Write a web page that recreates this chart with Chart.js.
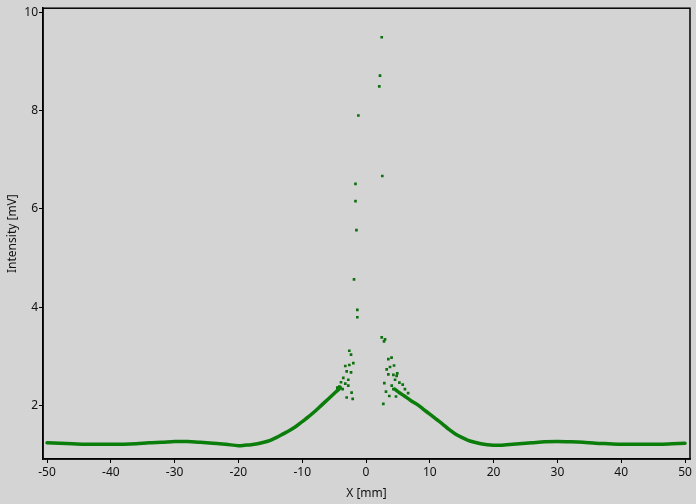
<!DOCTYPE html>
<html>
<head>
<meta charset="utf-8">
<script src="https://cdn.jsdelivr.net/npm/chart.js@4.4.1/dist/chart.umd.min.js"></script>
<style>
  html, body { margin: 0; padding: 0; background: #d4d4d4; }
  #wrap { width: 696px; height: 504px; position: relative; }
</style>
</head>
<body>
<div id="wrap"><canvas id="myChart"></canvas></div>
<script>
// tick labels
const xTicks = [-50, -40, -30, -20, -10, 0, 10, 20, 30, 40, 50];
const yTicks = [2, 4, 6, 8, 10];

const leftX = [-50, -48, -46, -44, -42, -40, -38, -36, -34, -32, -30, -28, -26, -24, -22, -20, -19, -18, -17, -16, -15, -14, -13, -12, -11, -10, -9, -8, -7, -6, -5, -4.5, -4];
const leftY = [1.25, 1.24, 1.23, 1.22, 1.22, 1.22, 1.22, 1.23, 1.25, 1.26, 1.275, 1.275, 1.26, 1.24, 1.22, 1.19, 1.20, 1.21, 1.23, 1.26, 1.30, 1.36, 1.43, 1.50, 1.58, 1.68, 1.78, 1.89, 2.01, 2.13, 2.25, 2.31, 2.37];

// right arm
const rightX = [4.5, 5, 6, 7, 8, 9, 10, 11, 12, 13, 14, 15, 16, 17, 18, 19, 20, 21, 22, 24, 26, 28, 30, 32, 34, 36, 38, 40, 42, 44, 46, 48, 50];
const rightY = [2.34, 2.29, 2.20, 2.11, 2.03, 1.93, 1.83, 1.73, 1.63, 1.52, 1.43, 1.36, 1.30, 1.26, 1.23, 1.21, 1.20, 1.20, 1.21, 1.23, 1.25, 1.27, 1.275, 1.27, 1.26, 1.24, 1.23, 1.22, 1.22, 1.22, 1.22, 1.23, 1.24];

// scattered points near the centre
const scatX = [2.46, 2.19, 2.08, -1.2, 2.55, -1.65, -1.65, -1.5, -1.88, -1.36, -1.36, 2.46, 2.98, 2.82,
  -2.62, -2.35, -1.99, -2.62, -3.25, -3.03, -2.35, -3.56, -2.78, -3.92, -3.25, -4.19, -2.78, -3.67, -2.26, -3.03, -2.09, -4.5,
  3.5, 4.0, 4.39, 3.24, 3.76, 3.5, 4.29, 4.9, 4.8, 4.55, 2.87, 5.23, 5.75, 4.03, 4.29, 6.1, 3.13, 3.65, 4.7, 2.71, 5.33, 6.6];
const scatY = [9.49, 8.71, 8.49, 7.9, 6.67, 6.51, 6.16, 5.57, 4.57, 3.95, 3.80, 3.39, 3.35, 3.31,
  3.12, 3.04, 2.87, 2.83, 2.81, 2.70, 2.68, 2.57, 2.53, 2.48, 2.45, 2.39, 2.41, 2.34, 2.27, 2.17, 2.14, 2.37,
  2.95, 2.98, 2.82, 2.74, 2.79, 2.64, 2.63, 2.66, 2.61, 2.53, 2.46, 2.47, 2.43, 2.41, 2.34, 2.34, 2.29, 2.20, 2.19, 2.04, 2.26, 2.26];

const green = '#0a7d0a';
const toPts = (xs, ys) => xs.map((x, i) => ({ x: x, y: ys[i] }));

// cadre noir autour de la zone de tracé
const framePlugin = {
  id: 'frame',
  beforeDraw(chart) {
    const ctx = chart.ctx;
    ctx.save();
    ctx.fillStyle = '#d4d4d4';
    ctx.fillRect(0, 0, chart.width, chart.height);
    ctx.restore();
  },
  afterDraw(chart) {
    const a = chart.chartArea;
    const ctx = chart.ctx;
    ctx.save();
    ctx.strokeStyle = '#000';
    ctx.lineWidth = 1.5;
    ctx.strokeRect(a.left, a.top, a.right - a.left, a.bottom - a.top);
    ctx.restore();
  }
};

const font = { family: 'Noto Sans', size: 12 };

new Chart(document.getElementById('myChart'), {
  type: 'scatter',
  data: {
    datasets: [
      { data: toPts(leftX, leftY), showLine: true, borderColor: green, borderWidth: 3.5, borderCapStyle: 'round', borderJoinStyle: 'round', pointRadius: 0, tension: 0.3 },
      { data: toPts(rightX, rightY), showLine: true, borderColor: green, borderWidth: 3.5, borderCapStyle: 'round', borderJoinStyle: 'round', pointRadius: 0, tension: 0.3 },
      { data: toPts(scatX, scatY), pointStyle: 'rect', pointRadius: 1.9, borderWidth: 0, backgroundColor: '#0f700f' }
    ]
  },
  options: {
    responsive: true,
    maintainAspectRatio: false,
    animation: false,
    devicePixelRatio: 1,
    layout: { padding: { top: 8, right: 6, left: 0, bottom: 0 } },
    plugins: { legend: { display: false }, tooltip: { enabled: false } },
    scales: {
      x: {
        min: -50.63,
        max: 50.78,
        afterBuildTicks: (scale) => { scale.ticks = xTicks.map(v => ({ value: v })); },
        afterFit: (scale) => { scale.height = 45; },
        ticks: { color: '#111', font: font, padding: 2, maxRotation: 0 },
        grid: { drawOnChartArea: false, color: '#000', tickLength: 4 },
        border: { color: '#000', width: 1.5 },
        title: { display: true, text: 'X [mm]', color: '#111', font: font, padding: { top: 0, bottom: 3 } }
      },
      y: {
        min: 0.92,
        max: 10.08,
        afterBuildTicks: (scale) => { scale.ticks = yTicks.map(v => ({ value: v })); },
        afterFit: (scale) => { scale.width = 43; },
        ticks: { color: '#111', font: font, padding: 1 },
        grid: { drawOnChartArea: false, color: '#000', tickLength: 4 },
        border: { color: '#000', width: 1.5 },
        title: { display: true, text: 'Intensity [mV]', color: '#111', font: font, padding: { top: 5, bottom: 0 } }
      }
    }
  },
  plugins: [framePlugin]
});
</script>
</body>
</html>
